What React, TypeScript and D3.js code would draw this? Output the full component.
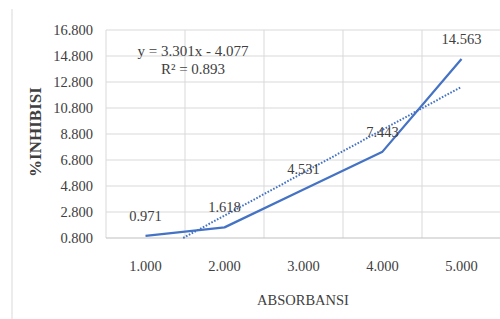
import React from "react";
import * as d3 from "d3";

const categories = ["1.000", "2.000", "3.000", "4.000", "5.000"];
const xValues = [1, 2, 3, 4, 5];
const inhibisi = [0.971, 1.618, 4.531, 7.443, 14.563];
const yTicks = [0.8, 2.8, 4.8, 6.8, 8.8, 10.8, 12.8, 14.8, 16.8];
const trendSlope = 3.301;
const trendIntercept = -4.077;
const equationLines = ["y = 3.301x - 4.077", "R² = 0.893"];

const W = 500;
const H = 319;
const font = "Liberation Serif, Times New Roman, Tinos, DejaVu Serif, serif";
const blue = "#4472c4";
const textColor = "#404040";

export default function App() {
  const x = d3.scaleBand().domain(categories).range([106, 501]);
  const y = d3.scaleLinear().domain([0.8, 16.8]).range([238, 30]);
  // numeric x for trendline, mapped onto band centers
  const xLin = d3
    .scaleLinear()
    .domain([1, 5])
    .range([x(categories[0])! + x.bandwidth() / 2, x(categories[4])! + x.bandwidth() / 2]);

  const line = d3
    .line<number>()
    .x((d, i) => xLin(xValues[i]))
    .y((d) => y(d));

  const tStart = (y.domain()[0] - trendIntercept) / trendSlope;
  const tEnd = 5;
  const trend = [tStart, tEnd];
  const trendLine = d3
    .line<number>()
    .x((d) => xLin(d))
    .y((d) => y(trendSlope * d + trendIntercept));

  const txt = { fontFamily: font, fill: textColor } as React.CSSProperties;

  return (
    <svg width={W} height={H} style={{ position: "absolute", left: 0, top: 0, background: "#fff" }}>
      <line x1={12} x2={12} y1={9} y2={H} stroke="#d9d9d9" />
      {/* grid */}
      {yTicks.slice(1).map((t) => (
        <line key={t} x1={106} x2={501} y1={y(t)} y2={y(t)} stroke="#d9d9d9" />
      ))}
      {categories.map((c) => (
        <line key={c} x1={x(c)!} x2={x(c)!} y1={30} y2={238} stroke="#d9d9d9" />
      ))}
      <line x1={106} x2={501} y1={238} y2={238} stroke="#bfbfbf" strokeWidth={1.2} />

      {/* y ticks */}
      {yTicks.map((t) => (
        <text key={t} x={93} y={y(t) + 5} textAnchor="end" fontSize={14.5} style={txt}>
          {t.toFixed(3)}
        </text>
      ))}
      {/* x ticks */}
      {categories.map((c) => (
        <text key={c} x={x(c)! + x.bandwidth() / 2} y={271} textAnchor="middle" fontSize={14.5} style={txt}>
          {c}
        </text>
      ))}

      <text x={303} y={305} textAnchor="middle" fontSize={14.5} style={txt}>
        ABSORBANSI
      </text>
      <text
        transform="translate(41,132) rotate(-90)"
        textAnchor="middle"
        fontSize={17}
        fontWeight="bold"
        style={txt}
      >
        %INHIBISI
      </text>

      <path d={trendLine(trend)!} fill="none" stroke={blue} strokeWidth={2} strokeDasharray="1.6 1.6" />
      <path d={line(inhibisi)!} fill="none" stroke={blue} strokeWidth={2.25} strokeLinejoin="round" />

      {inhibisi.map((v, i) => (
        <text key={i} x={xLin(xValues[i])} y={y(v) - 15} textAnchor="middle" fontSize={14.5} style={txt}>
          {v.toFixed(3)}
        </text>
      ))}

      {equationLines.map((s, i) => (
        <text key={s} x={193} y={56 + i * 18} textAnchor="middle" fontSize={15} style={txt}>
          {s}
        </text>
      ))}
    </svg>
  );
}
